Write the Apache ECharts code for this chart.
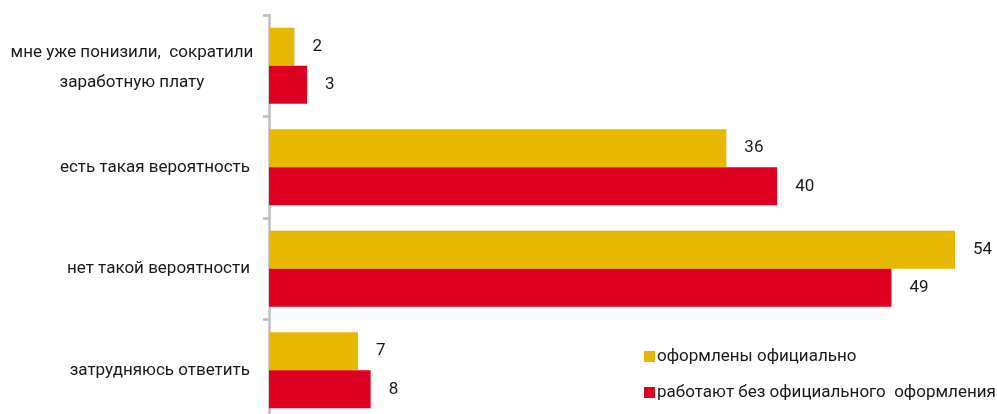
<!DOCTYPE html>
<html><head><meta charset="utf-8">
<script src="https://cdn.jsdelivr.net/npm/echarts@6/dist/echarts.min.js"></script>
<style>html,body{margin:0;padding:0;background:#fff}#c{width:997px;height:414px}</style>
</head><body><div id="c"></div>
<script>
const categories = ['мне уже понизили,  сократили\nзаработную плату', 'есть такая вероятность', 'нет такой вероятности', 'затрудняюсь ответить'];
const seriesNames = ['оформлены официально', 'работают без официального  оформления'];
const official = [2, 36, 54, 7];
const unofficial = [3, 40, 49, 8];

const FONT = 'Roboto, "Noto Sans", sans-serif';
const chart = echarts.init(document.getElementById('c'), null, {renderer: 'canvas'});
chart.setOption({
  animation: false,
  textStyle: {fontFamily: FONT},
  grid: {left: 269, right: 42, top: 15, height: 406, containLabel: false, outerBoundsMode: 'none'},
  xAxis: {type: 'value', min: 0, max: 54, show: false},
  yAxis: {
    type: 'category', data: categories, inverse: true,
    axisLine: {lineStyle: {color: '#BFBFBF', width: 2.5}},
    axisTick: {show: true, length: 6, lineStyle: {color: '#BFBFBF', width: 2.5}},
    axisLabel: {
      margin: 19, color: '#1a1a1a', fontSize: 17, fontFamily: FONT, lineHeight: 30,
      formatter: v => v.indexOf('\n') >= 0 ? v.split('\n').map(s => '{c|' + s + '}').join('\n') : v,
      rich: {c: {width: 236, align: 'center', fontSize: 17, fontFamily: FONT, color: '#1a1a1a', lineHeight: 30, padding: [3, 0, 0, 0]}}
    }
  },
  legend: {
    orient: 'vertical', left: 639, top: 343, itemWidth: 11, itemHeight: 11, itemGap: 19,
    icon: 'rect',
    textStyle: {fontSize: 17, color: '#1a1a1a', fontFamily: FONT, padding: [0, 0, 0, -3]},
    data: seriesNames
  },
  series: [
    {name: seriesNames[0], type: 'bar', data: official, barGap: '0%', barCategoryGap: '25%',
     itemStyle: {color: '#E8B800'},
     label: {show: true, position: 'right', distance: 18, fontSize: 17, color: '#1a1a1a', fontFamily: FONT}},
    {name: seriesNames[1], type: 'bar', data: unofficial, barGap: '0%', barCategoryGap: '25%',
     itemStyle: {color: '#DE0020'},
     label: {show: true, position: 'right', distance: 18, fontSize: 17, color: '#1a1a1a', fontFamily: FONT}}
  ]
});
</script></body></html>
